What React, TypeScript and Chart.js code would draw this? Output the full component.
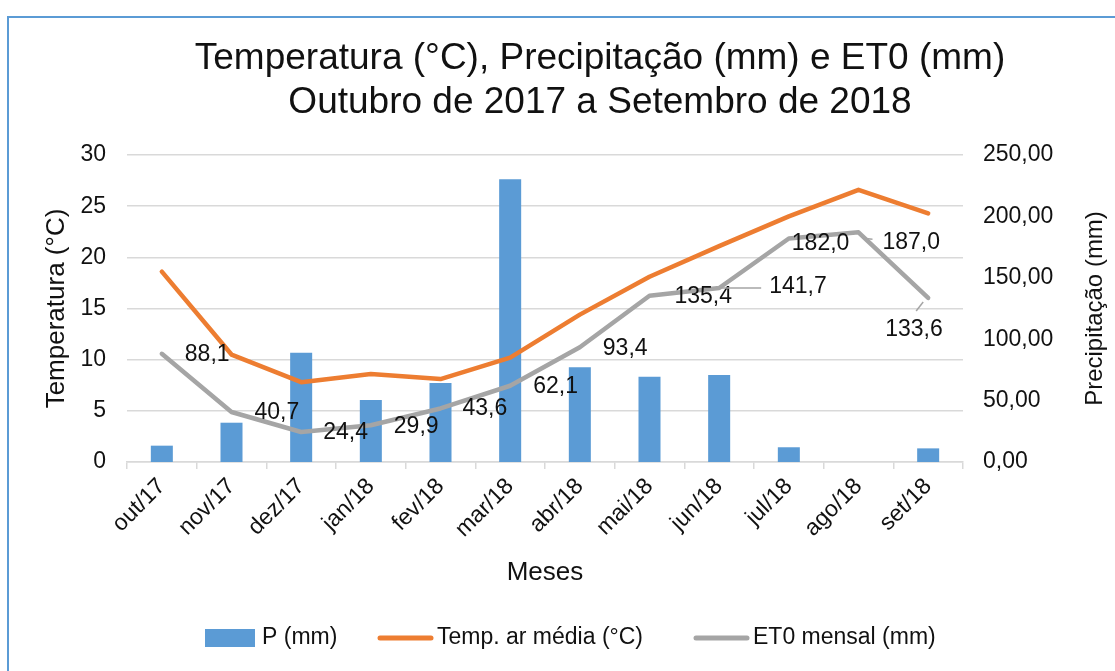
import React, { useEffect, useRef } from "react";
import { Chart, registerables } from "chart.js";

Chart.register(...registerables);

const FONT = "'Liberation Sans', Arial, sans-serif";

const categories = ["out/17", "nov/17", "dez/17", "jan/18", "fev/18", "mar/18", "abr/18", "mai/18", "jun/18", "jul/18", "ago/18", "set/18"];
const precipitation = [13.3, 32.0, 89.0, 50.5, 64.3, 230.2, 77.1, 69.5, 70.8, 12.0, 0, 11.1];
const temperature = [18.6, 10.5, 7.8, 8.6, 8.1, 10.2, 14.4, 18.1, 21.1, 24.0, 26.6, 24.3];
const et0 = [88.1, 40.7, 24.4, 29.9, 43.6, 62.1, 93.4, 135.4, 141.7, 182.0, 187.0, 133.6];
const leftTicks = [0, 5, 10, 15, 20, 25, 30];
const rightTicks = [0, 50, 100, 150, 200, 250];

const titleLines = ["Temperatura (°C), Precipitação (mm) e ET0 (mm)", "Outubro de 2017 a Setembro de 2018"];
const seriesNames = ["P (mm)", "Temp. ar média (°C)", "ET0 mensal (mm)"];
const COLORS = ["#5B9BD5", "#ED7D31", "#A5A5A5"];

// label placement (relative to each ET0 point)
const labelDx = [23, 23, 22, 23, 22, 23, 23, 25, 50, 3, 24, -43];
const labelDy = [1, 1, 1, 1, 0, 1, 1, 1, -1, 5, 10, 32];
const leaders: (number[] | null)[] = [null, null, null, null, null, null, null, null, [2, 0, 42, 0], null, [5, 6, 14, 7], [-5, 4, -12, 13]];

const fmt = (v: number, d: number) => v.toFixed(d).replace(".", ",");

const titleCenter = {
  id: "titleCenter",
  afterLayout(chart: any) {
    const t = chart.titleBlock;
    if (t) {
      t.left = 91;
      t.right = 1109;
    }
  },
};

const et0Labels = {
  id: "et0Labels",
  afterDatasetsDraw(chart: any) {
    const meta = chart.getDatasetMeta(2);
    const ctx = chart.ctx;
    ctx.save();
    ctx.font = `23px ${FONT}`;
    ctx.fillStyle = "#111";
    ctx.textAlign = "left";
    ctx.textBaseline = "middle";
    meta.data.forEach((pt: any, i: number) => {
      const x = pt.x;
      const y = pt.y;
      const l = leaders[i];
      if (l) {
        ctx.strokeStyle = "#A5A5A5";
        ctx.lineWidth = 1.5;
        ctx.beginPath();
        ctx.moveTo(x + l[0], y + l[1]);
        ctx.lineTo(x + l[2], y + l[3]);
        ctx.stroke();
      }
      ctx.fillText(fmt(et0[i], 1), x + labelDx[i], y + labelDy[i]);
    });
    ctx.restore();
  },
};

const extras = {
  id: "extras",
  afterDraw(chart: any) {
    const ctx = chart.ctx;
    const area = chart.chartArea;
    ctx.save();
    // right axis title (reads bottom to top)
    ctx.font = `24px ${FONT}`;
    ctx.fillStyle = "#111";
    ctx.textAlign = "center";
    ctx.textBaseline = "middle";
    ctx.translate(1095, (area.top + area.bottom) / 2);
    ctx.rotate(-Math.PI / 2);
    ctx.fillText("Precipitação (mm)", 0, 0);
    ctx.restore();

    // legend
    ctx.save();
    ctx.font = `23px ${FONT}`;
    ctx.textBaseline = "middle";
    ctx.textAlign = "left";
    const ly = 638;
    ctx.fillStyle = COLORS[0];
    ctx.fillRect(205, ly - 9, 50, 18);
    ctx.fillStyle = "#111";
    ctx.fillText(seriesNames[0], 262, ly);
    ctx.lineCap = "round";
    ctx.lineWidth = 5;
    ctx.strokeStyle = COLORS[1];
    ctx.beginPath();
    ctx.moveTo(380, ly);
    ctx.lineTo(431, ly);
    ctx.stroke();
    ctx.fillText(seriesNames[1], 437, ly);
    ctx.strokeStyle = COLORS[2];
    ctx.beginPath();
    ctx.moveTo(696, ly);
    ctx.lineTo(747, ly);
    ctx.stroke();
    ctx.fillText(seriesNames[2], 753, ly);
    ctx.restore();
  },
};

export default function App() {
  const ref = useRef<HTMLCanvasElement>(null);
  useEffect(() => {
    document.body.style.overflow = "hidden";
    const chart = new Chart(ref.current as HTMLCanvasElement, {
      type: "bar",
      data: {
        labels: categories,
        datasets: [
          {
            type: "bar",
            label: seriesNames[0],
            data: precipitation,
            yAxisID: "y1",
            backgroundColor: COLORS[0],
            barPercentage: 1,
            categoryPercentage: 0.316,
            order: 3,
          },
          {
            type: "line",
            label: seriesNames[1],
            data: temperature,
            yAxisID: "y",
            borderColor: COLORS[1],
            backgroundColor: COLORS[1],
            borderWidth: 4.5,
            pointRadius: 0,
            tension: 0,
            borderCapStyle: "round",
            borderJoinStyle: "round",
            order: 1,
          },
          {
            type: "line",
            label: seriesNames[2],
            data: et0,
            yAxisID: "y1",
            borderColor: COLORS[2],
            backgroundColor: COLORS[2],
            borderWidth: 4.5,
            pointRadius: 0,
            tension: 0,
            borderCapStyle: "round",
            borderJoinStyle: "round",
            order: 2,
          },
        ],
      } as any,
      options: {
        animation: false,
        responsive: false,
        devicePixelRatio: 1,
        layout: { padding: { left: 41.4, right: 6, top: 36.3, bottom: 82.4 } },
        plugins: {
          legend: { display: false },
          tooltip: { enabled: false },
          title: {
            display: true,
            text: titleLines,
            color: "#111",
            font: { family: FONT, size: 37, weight: "normal", lineHeight: 1.2 },
            padding: { top: 0, bottom: 29.9 },
          },
        },
        scales: {
          x: {
            offset: true,
            grid: {
              display: true,
              drawOnChartArea: false,
              drawTicks: true,
              tickLength: 7,
              color: "#D9D9D9",
              lineWidth: 1.5,
              offset: true,
            },
            border: { display: true, color: "#D9D9D9", width: 1.5 },
            ticks: {
              color: "#111",
              font: { family: FONT, size: 23 },
              minRotation: 45,
              maxRotation: 45,
              autoSkip: false,
              padding: 4,
            },
            title: {
              display: true,
              text: "Meses",
              color: "#111",
              font: { family: FONT, size: 26, lineHeight: 1.2 },
              padding: 0,
            },
            afterFit: (s: any) => {
              s.height = 126.6;
            },
          },
          y: {
            position: "left",
            min: 0,
            max: 30,
            afterBuildTicks: (s: any) => {
              s.ticks = leftTicks.map((v) => ({ value: v }));
            },
            grid: { color: "#D9D9D9", lineWidth: 1.5, drawTicks: false },
            border: { display: false },
            ticks: { color: "#111", font: { family: FONT, size: 23 }, padding: 21 },
            title: {
              display: true,
              text: "Temperatura (°C)",
              color: "#111",
              font: { family: FONT, size: 26, lineHeight: 1.2 },
              padding: 0,
            },
            afterFit: (s: any) => {
              s.width = 85.6;
            },
          },
          y1: {
            position: "right",
            min: 0,
            max: 250,
            afterBuildTicks: (s: any) => {
              s.ticks = rightTicks.map((v) => ({ value: v }));
            },
            grid: { display: false, drawTicks: false },
            border: { display: false },
            ticks: {
              color: "#111",
              font: { family: FONT, size: 23 },
              padding: 20,
              callback: (v: any) => fmt(Number(v), 2),
            },
            afterFit: (s: any) => {
              s.width = 146;
            },
          },
        },
      } as any,
      plugins: [titleCenter, et0Labels, extras],
    });
    return () => chart.destroy();
  }, []);

  return (
    <div style={{ position: "fixed", left: 0, top: 0, width: 1115, height: 671, background: "#fff", overflow: "hidden" }}>
      <div
        style={{
          position: "absolute",
          left: 7,
          top: 16,
          width: 1300,
          height: 900,
          border: "2.5px solid #5B9BD5",
          boxSizing: "border-box",
        }}
      />
      <canvas ref={ref} width={1115} height={671} style={{ position: "absolute", left: 0, top: 0, width: 1115, height: 671 }} />
    </div>
  );
}
